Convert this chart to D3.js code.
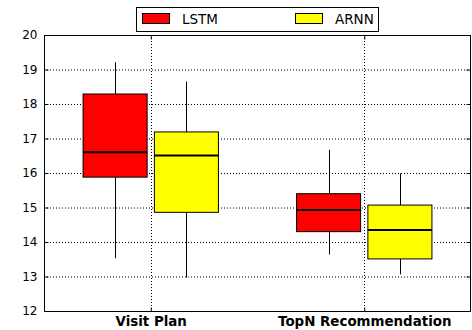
<!DOCTYPE html>
<html>
<head>
<meta charset="utf-8">
<script src="https://cdn.jsdelivr.net/npm/d3@7"></script>
<style>
  html, body { margin: 0; padding: 0; background: #fff; }
  svg { display: block; font-family: "DejaVu Sans", sans-serif; }
</style>
</head>
<body>
<svg id="chart" width="472" height="330"></svg>
<script>
// Tasks on the x axis and the two models compared
const categories = ["Visit Plan", "TopN Recommendation"];
const seriesNames = ["LSTM", "ARNN"];
const seriesColors = ["#ff0000", "#ffff00"];

// Box statistics per task: [whisker low, Q1, median, Q3, whisker high]
const lstmStats = [
  [13.53, 15.88, 16.60, 18.29, 19.21],
  [13.64, 14.30, 14.93, 15.40, 16.67]
];
const arnnStats = [
  [12.97, 14.86, 16.51, 17.19, 18.65],
  [13.06, 13.51, 14.35, 15.07, 15.99]
];
const yTicks = [12, 13, 14, 15, 16, 17, 18, 19, 20];

const series = [lstmStats, arnnStats];
const offsets = [-0.167, 0.167];
const boxWidth = 0.30;

const svg = d3.select("#chart");
const m = { left: 44, right: 471, top: 35, bottom: 311 };

const x = d3.scaleLinear().domain([-0.5, 1.5]).range([m.left, m.right]);
const y = d3.scaleLinear().domain([12, 20]).range([m.bottom, m.top]);

// Dotted grid
const grid = svg.append("g");
grid.selectAll("line.h").data(yTicks).join("line")
  .attr("x1", m.left).attr("x2", m.right)
  .attr("y1", d => y(d) + 0.5).attr("y2", d => y(d) + 0.5)
  .attr("stroke", "#000").attr("stroke-width", 1).attr("stroke-dasharray", "1,2");
grid.selectAll("line.v").data(categories).join("line")
  .attr("x1", (d, i) => Math.round(x(i)) + 0.5).attr("x2", (d, i) => Math.round(x(i)) + 0.5)
  .attr("y1", m.top).attr("y2", m.bottom)
  .attr("stroke", "#000").attr("stroke-width", 1).attr("stroke-dasharray", "1,2");

// Boxes
series.forEach((stats, s) => {
  const g = svg.append("g");
  stats.forEach((st, i) => {
    const cx = Math.round(x(i + offsets[s])) + 0.5;
    const x0 = x(i + offsets[s] - boxWidth / 2);
    const x1 = x(i + offsets[s] + boxWidth / 2);
    // whiskers
    g.append("line").attr("x1", cx).attr("x2", cx)
      .attr("y1", y(st[0])).attr("y2", y(st[1]))
      .attr("stroke", "#000").attr("stroke-width", 1);
    g.append("line").attr("x1", cx).attr("x2", cx)
      .attr("y1", y(st[3])).attr("y2", y(st[4]))
      .attr("stroke", "#000").attr("stroke-width", 1);
    // box
    g.append("rect")
      .attr("x", x0).attr("y", y(st[3]))
      .attr("width", x1 - x0).attr("height", y(st[1]) - y(st[3]))
      .attr("fill", seriesColors[s]).attr("stroke", "#000").attr("stroke-width", 1);
    // median
    g.append("line").attr("x1", x0).attr("x2", x1)
      .attr("y1", y(st[2])).attr("y2", y(st[2]))
      .attr("stroke", "#000").attr("stroke-width", 2);
  });
});

// Frame
svg.append("rect")
  .attr("x", m.left + 0.5).attr("y", m.top + 0.5)
  .attr("width", m.right - m.left - 1).attr("height", m.bottom - m.top)
  .attr("fill", "none").attr("stroke", "#000").attr("stroke-width", 1);

// Inward ticks
const yAxisL = d3.axisLeft(y).tickValues(yTicks).tickSize(-4).tickPadding(7).tickFormat(d3.format("d"));
const gl = svg.append("g").attr("transform", `translate(${m.left + 0.5},0)`).call(yAxisL);
gl.select(".domain").remove();
gl.selectAll("text").attr("font-size", 12).attr("font-family", "DejaVu Sans, sans-serif").attr("fill", "#000");

const yAxisR = d3.axisRight(y).tickValues(yTicks).tickSize(-4).tickFormat("");
const gr = svg.append("g").attr("transform", `translate(${m.right - 0.5},0)`).call(yAxisR);
gr.select(".domain").remove();

const xAxisB = d3.axisBottom(x).tickValues([0, 1]).tickSize(-4)
  .tickFormat(i => categories[i]);
const gb = svg.append("g").attr("transform", `translate(0,${m.bottom + 0.5})`).call(xAxisB);
gb.select(".domain").remove();
gb.selectAll("text").attr("y", 14).attr("dy", 0)
  .attr("font-size", 13.4).attr("font-weight", "bold")
  .attr("font-family", "DejaVu Sans, sans-serif").attr("fill", "#000");

const xAxisT = d3.axisTop(x).tickValues([0, 1]).tickSize(-4).tickFormat("");
const gt = svg.append("g").attr("transform", `translate(0,${m.top + 0.5})`).call(xAxisT);
gt.select(".domain").remove();

// Legend
const leg = svg.append("g");
leg.append("rect").attr("x", 136.5).attr("y", 7.5).attr("width", 242).attr("height", 24)
  .attr("fill", "#fff").attr("stroke", "#000").attr("stroke-width", 1);
const legX = [142, 295];
seriesNames.forEach((name, s) => {
  leg.append("rect").attr("x", legX[s] + 0.5).attr("y", 13.5).attr("width", 27).attr("height", 10)
    .attr("fill", seriesColors[s]).attr("stroke", "#000").attr("stroke-width", 1);
  leg.append("text").attr("x", legX[s] + 40).attr("y", 24)
    .attr("font-size", 13.5).attr("fill", "#000").text(name);
});
</script>
</body>
</html>
